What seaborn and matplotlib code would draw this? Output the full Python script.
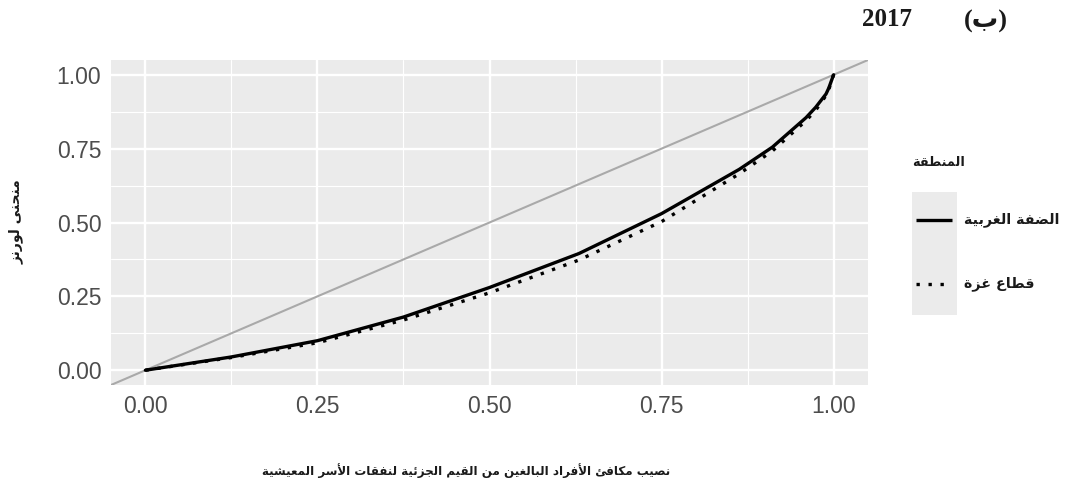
import matplotlib
matplotlib.use("Agg")
import matplotlib.pyplot as plt
from matplotlib import font_manager
from matplotlib.lines import Line2D
from matplotlib.patches import Rectangle
import pandas as pd
import seaborn as sns

# Lorenz curve points: cumulative population share vs cumulative expenditure share
pop_share = [0.0, 0.125, 0.25, 0.375, 0.5, 0.63, 0.75, 0.863, 0.911, 0.96, 0.974, 0.989, 0.993, 1.0]
west_bank = [0.0, 0.045, 0.10, 0.18, 0.28, 0.395, 0.53, 0.68, 0.755, 0.855, 0.89, 0.935, 0.955, 1.0]
gaza = [0.0, 0.043, 0.093, 0.17, 0.262, 0.373, 0.503, 0.665, 0.742, 0.845, 0.88, 0.93, 0.95, 1.0]

region_names = ["الضفة الغربية", "قطاع غزة"]
tick_values = [0.0, 0.25, 0.5, 0.75, 1.0]
tick_labels = ["0.00", "0.25", "0.50", "0.75", "1.00"]
minor_values = [0.125, 0.375, 0.625, 0.875]

x_title = "نصيب مكافئ الأفراد البالغين من القيم الجزئية لنفقات الأسر المعيشية"
y_title = "منحنى لورنز"
legend_title = "المنطقة"
panel_letter = "(ب)"
year_text = "2017"

# --- minimal Arabic shaping (presentation forms) + visual ordering ---
_letters = [chr(c) for c in range(0x621, 0x63B)] + [chr(c) for c in range(0x641, 0x64B)]
_counts = [1, 2, 2, 2, 2, 4, 2, 4, 2, 4, 4, 4, 4, 4, 2, 2, 2, 2, 4, 4, 4, 4, 4, 4, 4, 4,
           4, 4, 4, 4, 4, 4, 4, 2, 2, 4]
FORMS = {}
_start = 0xFE80
for _ch, _n in zip(_letters, _counts):
    FORMS[_ch] = (_start, _n)
    _start += _n
LAMALEF = {"آ": 0xFEF5, "أ": 0xFEF7, "إ": 0xFEF9, "ا": 0xFEFB}


def shape(text):
    res = []
    prev_joins = False
    i, n = 0, len(text)
    while i < n:
        c = text[i]
        if c == "ل" and i + 1 < n and text[i + 1] in LAMALEF:
            res.append(chr(LAMALEF[text[i + 1]] + (1 if prev_joins else 0)))
            prev_joins = False
            i += 2
            continue
        if c not in FORMS:
            res.append(c)
            prev_joins = False
            i += 1
            continue
        start, k = FORMS[c]
        nxt = text[i + 1] if i + 1 < n else None
        next_joins = k == 4 and nxt in FORMS and FORMS[nxt][1] >= 2
        if k == 1:
            form = 0
        elif k == 2:
            form = 1 if prev_joins else 0
        else:
            if prev_joins and next_joins:
                form = 3
            elif prev_joins:
                form = 1
            elif next_joins:
                form = 2
            else:
                form = 0
        res.append(chr(start + form))
        prev_joins = k == 4
        i += 1
    return "".join(reversed(res))


# --- fonts ---
sns.set_theme(style="white")
installed = {f.name for f in font_manager.fontManager.ttflist}
if "Liberation Sans Narrow" in installed:
    tick_font, tick_size = "Liberation Sans Narrow", 19
else:
    tick_font, tick_size = "Liberation Sans", 16.5
arabic_font = ["DejaVu Sans"]
plt.rcParams["font.family"] = ["DejaVu Sans"]

W, H = 1065, 497
fig = plt.figure(figsize=(W / 100, H / 100), dpi=100)
fig.patch.set_facecolor("white")


def px(x, y):
    return x / W, 1 - y / H


left, right, top, bottom = 111, 868, 60, 385
ax = fig.add_axes([left / W, 1 - bottom / H, (right - left) / W, (bottom - top) / H])
ax.set_facecolor("#EBEBEB")

# equality diagonal
ax.axline((0, 0), slope=1, color="#A9A9A9", linewidth=1.5, zorder=2)

df = pd.DataFrame({
    "share": pop_share * 2,
    "lorenz": west_bank + gaza,
    "region": [region_names[0]] * len(pop_share) + [region_names[1]] * len(pop_share),
})
sns.lineplot(data=df, x="share", y="lorenz", hue="region", style="region",
             palette=["black", "black"], dashes={region_names[0]: "", region_names[1]: (1, 2.6)},
             linewidth=2.4, legend=False, ax=ax, zorder=3, sort=False)
for ln in ax.lines[1:]:
    ln.set_dash_capstyle("butt")
    ln.set_solid_joinstyle("round")

ax.set_xlim(-0.05, 1.05)
ax.set_ylim(-0.05, 1.05)
ax.set_xticks(tick_values)
ax.set_xticklabels(tick_labels)
ax.set_yticks(tick_values)
ax.set_yticklabels(tick_labels)
ax.set_xticks(minor_values, minor=True)
ax.set_yticks(minor_values, minor=True)
ax.grid(which="major", color="white", linewidth=1.7)
ax.grid(which="minor", color="white", linewidth=0.8)
ax.set_axisbelow(True)
for s in ax.spines.values():
    s.set_visible(False)
ax.tick_params(which="major", length=4, width=1.3, color="#333333", pad=3,
               labelsize=tick_size, labelcolor="#4D4D4D")
ax.tick_params(which="minor", length=0)
for lab in ax.get_xticklabels() + ax.get_yticklabels():
    lab.set_fontfamily(tick_font)
ax.set_xlabel("")
ax.set_ylabel("")

# axis titles
fig.text(*px(466, 471), shape(x_title), family=arabic_font, fontweight="bold",
         fontsize=8.6, ha="center", va="center", color="#1A1A1A")
fig.text(*px(16, 222), shape(y_title), family=arabic_font, fontweight="bold",
         fontsize=10, ha="center", va="center", rotation=90, color="#1A1A1A")

# panel heading
fig.text(*px(887, 20), year_text, family=["Liberation Serif"], fontweight="bold",
         fontsize=18, ha="center", va="center", color="#1A1A1A")
fig.text(*px(986, 21), panel_letter, family=["Liberation Serif", "DejaVu Sans"],
         fontweight="bold", fontsize=19, ha="center", va="center", color="#1A1A1A")

# legend
fig.text(*px(912, 162), shape(legend_title), family=arabic_font, fontweight="bold",
         fontsize=9.3, ha="left", va="center", color="#1A1A1A")
fig.patches.append(Rectangle(px(912, 315), 45 / W, 123 / H, transform=fig.transFigure,
                             facecolor="#EBEBEB", edgecolor="none"))
key_y = [220, 284]
key_dash = [None, (1, 2.6)]
for ky, name, dsh in zip(key_y, region_names, key_dash):
    x0, y0 = px(916, ky)
    x1, _ = px(952, ky)
    ln = Line2D([x0, x1], [y0, y0], transform=fig.transFigure, color="black", linewidth=2.4,
                solid_capstyle="butt", dash_capstyle="butt")
    if dsh is not None:
        ln.set_linestyle((0, dsh))
    fig.lines.append(ln)
    fig.text(*px(964, ky), shape(name), family=arabic_font, fontweight="bold",
             fontsize=10.3, ha="left", va="center", color="#1A1A1A")

fig.savefig("out.png", dpi=100)
